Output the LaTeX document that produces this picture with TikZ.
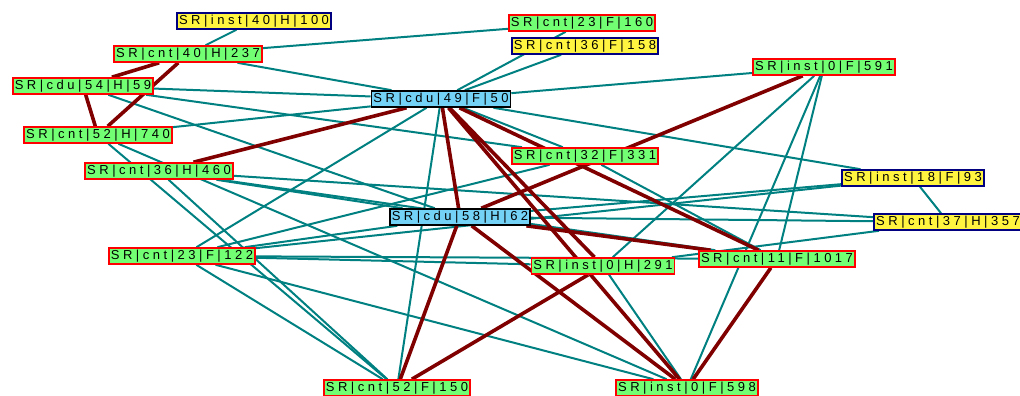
\documentclass[tikz,border=0pt]{standalone}
\usepackage{fontspec}
\newfontfamily\lblfont{Liberation Sans}[LetterSpace=27]
\usetikzlibrary{backgrounds}
\definecolor{edgered}{RGB}{128,0,0}
\definecolor{navy}{RGB}{0,0,128}
\begin{document}
\begin{tikzpicture}[x=1pt, y=-1pt,
  every node/.style={font=\lblfont\fontsize{13}{13}\selectfont,
    inner xsep=2pt, inner ysep=0pt, minimum height=16pt},
  hit/.style={draw=red, line width=1.6pt, fill=green!55},
  qry/.style={draw=navy, line width=1.6pt, fill=yellow!75},
  hub/.style={draw=black, line width=1.6pt, fill=cyan!55},
  tl/.style={draw=teal, line width=2pt},
  rd/.style={draw=edgered, line width=3.6pt}]
\useasboundingbox (0,0) rectangle (1020,396);
%
% ---- Nodes ----
\node[qry] (inst40h) at (254,21) {SR|inst|40|H|100};
\node[hit] (cnt40h) at (188,54) {SR|cnt|40|H|237};
\node[hit] (cdu54h) at (83,86) {SR|cdu|54|H|59};
\node[hit] (cnt52h) at (98,135) {SR|cnt|52|H|740};
\node[hit] (cnt36h) at (159,171) {SR|cnt|36|H|460};
\node[hit] (cnt23f122) at (182,256) {SR|cnt|23|F|122};
\node[hit] (cnt23f160) at (582,23) {SR|cnt|23|F|160};
\node[qry] (cnt36f) at (585,46) {SR|cnt|36|F|158};
\node[hub] (cdu49f) at (441,99) {SR|cdu|49|F|50};
\node[hit] (inst0f591) at (824,67) {SR|inst|0|F|591};
\node[hit] (cnt32f) at (585,156) {SR|cnt|32|F|331};
\node[hub] (cdu58h) at (460,217) {SR|cdu|58|H|62};
\node[qry] (inst18f) at (913,178) {SR|inst|18|F|93};
\node[qry] (cnt37h) at (948,222) {SR|cnt|37|H|357};
\node[hit] (cnt11f) at (777,259) {SR|cnt|11|F|1017};
\node[hit] (inst0h) at (603,266) {SR|inst|0|H|291};
\node[hit] (cnt52f) at (397,388) {SR|cnt|52|F|150};
\node[hit] (inst0f598) at (687,388) {SR|inst|0|F|598};
%
\begin{scope}[on background layer]
% ---- Light links ----
\draw[tl] (cdu49f) -- (cnt23f160);
\draw[tl] (cdu49f) -- (cnt36f);
\draw[tl] (cdu49f) -- (inst0f591);
\draw[tl] (cdu49f) -- (cdu54h);
\draw[tl] (cdu49f) -- (cnt40h);
\draw[tl] (cdu49f) -- (cnt52h);
\draw[tl] (cdu49f) -- (cnt23f122);
\draw[tl] (cdu49f) -- (cnt52f);
\draw[tl] (cdu49f) -- (inst18f);
\draw[tl] (cdu49f) -- (cnt32f);
\draw[tl] (cnt40h) -- (cnt23f160);
\draw[tl] (inst40h) -- (cnt40h);
\draw[tl] (inst0f591) -- (inst0h);
\draw[tl] (inst0f591) -- (inst0f598);
\draw[tl] (inst0f591) -- (cnt11f);
\draw[tl] (inst18f) -- (cnt37h);
\draw[tl] (inst18f) -- (cdu58h);
\draw[tl] (inst18f) -- (cnt23f122);
\draw[tl] (cdu58h) -- (cnt37h);
\draw[tl] (cnt37h) -- (inst0h);
\draw[tl] (cnt23f122) -- (inst0h);
\draw[tl] (cnt23f122) -- (cnt11f);
\draw[tl] (cnt23f122) -- (cnt52f);
\draw[tl] (cnt23f122) -- (inst0f598);
\draw[tl] (cnt23f122) -- (cnt32f);
\draw[tl] (cnt23f122) -- (cdu58h);
\draw[tl] (cnt36h) -- (cnt52f);
\draw[tl] (cnt36h) -- (cdu58h);
\draw[tl] (cnt36h) -- (cnt37h);
\draw[tl] (cnt36h) -- (cnt11f);
\draw[tl] (cnt52h) -- (cnt52f);
\draw[tl] (cnt52h) -- (inst0f598);
\draw[tl] (cdu54h) -- (cdu58h);
\draw[tl] (cdu54h) -- (cnt32f);
\draw[tl] (inst0h) -- (inst0f598);
\draw[tl] (cnt32f) -- (cnt11f);
%
% ---- Heavy links ----
\draw[rd] (cnt40h) -- (cdu54h);
\draw[rd] (cnt40h) -- (cnt52h);
\draw[rd] (cdu54h) -- (cnt52h);
\draw[rd] (cnt36h) -- (cdu49f);
\draw[rd] (inst0f591) -- (cdu58h);
\draw[rd] (cdu49f) -- (cnt11f);
\draw[rd] (cdu49f) -- (inst0f598);
\draw[rd] (cdu49f) -- (inst0h);
\draw[rd] (cdu49f) -- (cdu58h);
\draw[rd] (cdu58h) -- (cnt11f);
\draw[rd] (cdu58h) -- (cnt52f);
\draw[rd] (cdu58h) -- (inst0f598);
\draw[rd] (cnt52f) -- (inst0h);
\draw[rd] (cnt11f) -- (inst0f598);
\end{scope}
\end{tikzpicture}
\end{document}
